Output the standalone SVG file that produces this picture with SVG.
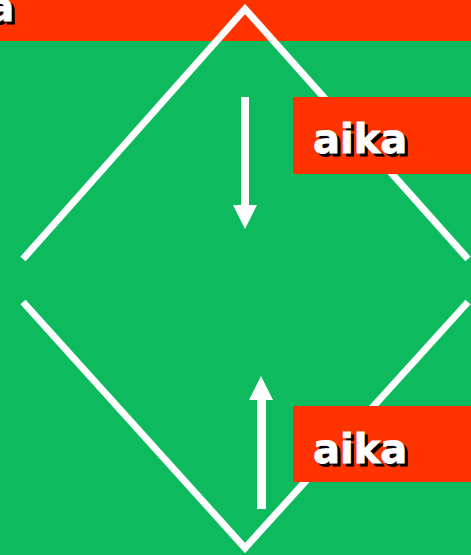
<svg xmlns="http://www.w3.org/2000/svg" width="471" height="555" viewBox="0 0 471 555">
<style>
.bg{fill:#0DBB5E}
.red{fill:#FF3300}
.line{stroke:#fff;stroke-width:7;fill:none}
.t{font-family:"DejaVu Sans",Verdana,sans-serif;font-weight:bold;font-size:40px;stroke-width:0.8}
.sh{fill:#000;stroke:#000}
.fg{fill:#fff;stroke:#fff}
.arr{fill:#fff}
</style>
<rect class="bg" x="0" y="0" width="471" height="555"/>
<g id="topbar">
<rect class="red" x="0" y="0" width="471" height="41"/>
<text class="t sh" x="-77" y="24">aika</text>
<text class="t fg" x="-80" y="21">aika</text>
</g>
<g id="connectors">
<polyline class="line" points="23,259 245,9 468,259"/>
<polyline class="line" points="23,302 245,548 468,302"/>
<g id="arrow-down">
<rect class="arr" x="241" y="97" width="8" height="110"/>
<polygon class="arr" points="233,205 257,205 245,229"/>
</g>
<g id="arrow-up">
<rect class="arr" x="257" y="398" width="9" height="111"/>
<polygon class="arr" points="249,400 273,400 261,376"/>
</g>
</g>
<g id="label1">
<rect class="red" x="293" y="97" width="178" height="77"/>
<text class="t sh" x="316" y="156">aika</text>
<text class="t fg" x="313" y="153">aika</text>
</g>
<g id="label2">
<rect class="red" x="293" y="406" width="178" height="76"/>
<text class="t sh" x="316" y="466">aika</text>
<text class="t fg" x="313" y="463">aika</text>
</g>
</svg>
